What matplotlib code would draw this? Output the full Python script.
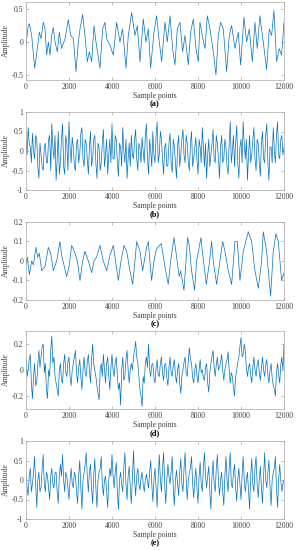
import numpy as np
import matplotlib.pyplot as plt

# --- data (sample index, amplitude) ---

# (a) smooth-ish signal: turning points
a_x = [0, 93, 155, 264, 403, 527, 620, 698, 806, 884, 961, 1039, 1116, 1194,
       1271, 1349, 1457, 1550, 1659, 1814, 1969, 2077, 2201, 2325, 2434, 2511,
       2635, 2744, 2852, 2945, 3054, 3162, 3255, 3441, 3565, 3674, 3751, 3906,
       4061, 4216, 4371, 4495, 4650, 4759, 4914, 5069, 5177, 5301, 5456, 5580,
       5689, 5797, 5952, 6076, 6200, 6309, 6464, 6572, 6696, 6820, 6929, 7037,
       7161, 7285, 7394, 7549, 7657, 7781, 7905, 8014, 8091, 8200, 8324, 8432,
       8556, 8711, 8835, 8944, 9052, 9176, 9331, 9455, 9564, 9719, 9874, 9982,
       10137, 10261, 10385, 10525, 10649, 10757, 10881, 11036, 11191, 11315,
       11424, 11532, 11656, 11780, 11889, 12000]
a_y = [-0.05, 0.22, 0.28, 0.1, -0.4, -0.1, 0.15, 0.05, 0.3, 0.2, -0.2, 0.0,
       -0.2, 0.1, 0.22, 0.0, -0.15, 0.15, -0.1, 0.05, 0.34, 0.1, 0.05, -0.45,
       0.0, 0.2, 0.42, 0.1, -0.3, -0.15, -0.3, 0.25, 0.0, -0.4, 0.2, 0.3, 0.05,
       -0.05, -0.2, 0.3, 0.0, 0.2, -0.4, 0.1, 0.45, 0.1, 0.25, -0.3, 0.35, 0.0,
       0.2, -0.4, 0.15, 0.4, 0.0, -0.3, 0.3, 0.0, 0.4, -0.1, -0.35, 0.2, 0.3,
       -0.15, 0.1, -0.35, 0.15, 0.35, -0.1, -0.3, 0.3, 0.1, -0.1, 0.4, 0.2,
       -0.15, -0.5, 0.1, 0.3, 0.2, -0.45, 0.1, 0.25, -0.1, 0.15, -0.35, 0.38,
       0.0, 0.2, -0.3, 0.3, -0.1, 0.4, 0.0, -0.42, 0.2, 0.1, 0.48, -0.3, -0.1,
       -0.2, 0.3]

# (b) dense broadband signal, every 50 samples
b_y = [0.3, -0.1, 0.6, 0.2, 0.1, -0.3, 0.45, 0.0, -0.2, 0.4, 0.3, -0.4, -0.7, 0.2, -0.1, -0.4, -0.5, 0.1, 0.2, -0.3,
       -0.3, 0.3, 0.4, -0.5, 0.7, 0.1, -0.2, 0.4, -0.75, -0.2, 0.5, -0.6, -0.3, 0.3, 0.7, -0.4, -0.6, 0.4, 0.2, -0.5,
       0.75, 0.1, -0.3, 0.35, 0.1, -0.4, -0.5, 0.2, 0.3, -0.3, -0.1, 0.45, 0.6, -0.2, -0.4, 0.3, 0.2, -0.2, -0.6, 0.1,
       0.5, -0.4, -0.2, 0.3, 0.4, -0.3, -0.7, 0.2, 0.1, -0.5, -0.3, 0.2, 0.55, -0.4, -0.1, 0.3, -0.6, -0.1, 0.3, -0.3,
       0.7, -0.2, -0.2, 0.4, 0.3, -0.3, -0.65, 0.2, 0.1, -0.4, 0.6, 0.0, -0.3, 0.3, -0.7, -0.2, 0.2, -0.4, 0.4, -0.1,
       -0.2, 0.3, 0.55, -0.2, -0.5, 0.2, 0.1, -0.3, 0.35, 0.0, -0.3, 0.4, 0.7, -0.2, -0.6, 0.3, 0.0, -0.4, 0.5, -0.1,
       -0.3, 0.4, 0.75, -0.3, -0.1, 0.5, 0.3, -0.2, -0.6, 0.1, 0.2, -0.4, -0.35, 0.2, 0.45, -0.3, -0.55, 0.3, 0.1, -0.3,
       -0.7, 0.1, 0.4, -0.4, -0.1, 0.3, 0.55, -0.1, -0.3, 0.4, 0.2, -0.3, -0.5, 0.2, 0.5, -0.4, -0.2, 0.1, 0.35, -0.2,
       -0.6, 0.3, 0.1, -0.3, 0.6, 0.1, -0.4, 0.2, -0.7, -0.1, 0.3, -0.4, -0.1, 0.2, 0.55, -0.2, -0.3, 0.4, 0.2, -0.2,
       -0.7, 0.1, 0.4, -0.3, -0.2, 0.3, 0.1, -0.4, -0.6, 0.2, 0.75, -0.3, 0.0, 0.4, -0.4, 0.2, 0.65, -0.3, -0.7, 0.1,
       0.3, -0.3, 0.75, 0.2, -0.2, 0.3, -0.75, -0.1, 0.4, -0.3, -0.1, 0.3, 0.6, -0.2, -0.5, 0.3, 0.2, -0.3, -0.65, 0.2,
       0.5, -0.2, -0.3, 0.4, 0.7, -0.3, -0.75, 0.1, 0.1, -0.3, 0.6, 0.0, -0.3, 0.4, 0.75, -0.1, -0.2, 0.3, 0.4, -0.1,
       0.1]

# (c) quasi-periodic signal with growing amplitude: turning points
c_x = [0, 62, 155, 264, 341, 465, 543, 620, 729, 884, 1039, 1147, 1271, 1426,
       1581, 1659, 1891, 1999, 2124, 2279, 2387, 2511, 2635, 2744, 2899, 3054,
       3162, 3286, 3441, 3596, 3751, 3906, 4061, 4139, 4294, 4418, 4557, 4681,
       4836, 4960, 5069, 5146, 5301, 5425, 5611, 5689, 5843, 5952, 6061, 6293,
       6448, 6615, 6727, 6883, 7130, 7192, 7347, 7518, 7595, 7700, 7843, 7936,
       8138, 8200, 8386, 8541, 8634, 8711, 8866, 9021, 9145, 9254, 9409, 9564,
       9719, 9828, 9952, 10107, 10339, 10494, 10649, 10804, 10959, 11036, 11191,
       11377, 11501, 11625, 11734, 11889, 12000]
c_y = [-0.02, 0.02, -0.07, 0.0, -0.02, 0.07, 0.02, 0.04, -0.05, -0.03, 0.07,
       0.04, -0.05, 0.0, 0.1, 0.03, -0.08, -0.03, 0.08, 0.04, 0.0, -0.1, 0.0,
       0.05, 0.0, -0.06, 0.0, 0.02, 0.08, 0.0, -0.05, 0.03, 0.08, 0.02, -0.1,
       0.0, 0.08, 0.05, -0.05, -0.12, 0.0, 0.1, 0.05, -0.05, 0.07, 0.1, -0.1,
       0.0, 0.06, 0.09, -0.02, -0.12, 0.0, 0.12, -0.08, -0.05, -0.15, 0.12,
       0.08, -0.05, -0.15, 0.0, 0.12, 0.05, -0.12, 0.0, 0.1, 0.0, -0.12, 0.0,
       0.1, 0.05, -0.05, -0.12, 0.1, 0.1, -0.1, 0.05, 0.15, 0.1, -0.05, -0.14,
       0.0, 0.15, 0.05, -0.18, 0.05, 0.14, 0.1, -0.1, -0.06]

# (d) dense signal with slow swings, every 50 samples
d_y = [0.1, -0.05, 0.0, 0.08, 0.12, -0.1, -0.22, -0.05, 0.05, -0.12, -0.1, 0.05, 0.15, 0.02, 0.1, 0.18, 0.2, -0.02, 0.05, -0.15,
       -0.22, 0.0, -0.05, 0.15, 0.26, 0.05, 0.1, -0.05, -0.1, -0.15, -0.2, 0.0, 0.05, -0.08, -0.1, 0.05, 0.12, -0.02, -0.05, 0.06,
       0.1, -0.05, -0.12, 0.0, 0.05, 0.1, 0.15, -0.02, -0.1, 0.02, 0.08, -0.05, -0.15, 0.0, 0.1, -0.02, -0.05, 0.06, 0.12, 0.0,
       -0.1, 0.08, 0.2, 0.05, 0.0, -0.05, -0.12, -0.18, -0.23, 0.0, 0.05, -0.05, 0.12, 0.0, -0.1, 0.05, 0.1, -0.05, -0.15, 0.02,
       0.12, 0.0, -0.05, 0.06, 0.1, -0.05, -0.15, -0.1, -0.27, 0.0, 0.1, -0.08, -0.05, 0.08, 0.15, 0.0, -0.1, 0.0, 0.05, 0.0,
       0.1, 0.15, 0.22, 0.1, 0.05, -0.05, -0.15, -0.2, -0.28, -0.05, -0.1, 0.05, 0.1, 0.02, 0.2, 0.0, -0.05, 0.04, 0.05, -0.06,
       -0.1, 0.02, 0.08, -0.04, -0.05, 0.05, 0.1, -0.02, -0.08, 0.04, 0.05, -0.06, -0.12, 0.02, 0.1, -0.02, -0.05, 0.04, 0.08, -0.04,
       -0.1, 0.0, 0.05, -0.1, -0.18, -0.05, 0.0, 0.06, 0.1, -0.02, -0.05, 0.08, 0.17, 0.08, 0.05, -0.06, -0.1, 0.0, 0.05, -0.04,
       -0.1, 0.0, 0.08, -0.02, 0.0, -0.06, -0.08, 0.02, 0.05, -0.1, -0.17, -0.02, 0.05, 0.1, 0.15, 0.02, -0.05, 0.04, 0.1, 0.0,
       0.02, 0.06, 0.12, 0.0, -0.08, 0.0, 0.05, 0.08, 0.14, 0.0, -0.1, -0.02, -0.05, -0.14, -0.2, -0.05, 0.0, 0.06, 0.1, 0.18,
       0.25, 0.1, 0.12, 0.2, 0.15, 0.02, -0.05, 0.02, 0.05, -0.04, -0.1, 0.02, 0.1, 0.0, -0.05, 0.04, 0.08, -0.02, -0.08, 0.02,
       0.1, 0.0, -0.05, 0.04, 0.08, -0.04, -0.1, 0.0, 0.05, -0.06, -0.12, -0.15, -0.2, -0.02, 0.05, -0.04, -0.1, 0.04, 0.1, 0.0,
       0.2]

# (e) spiky broadband signal, every 50 samples
e_y = [0.1, -0.2, -0.4, 0.1, 0.3, -0.3, -0.1, 0.2, 0.6, -0.1, -0.7, 0.0, 0.2, -0.3, -0.2, 0.3, 0.65, -0.1, -0.3, 0.2,
       0.1, -0.2, -0.5, 0.1, 0.3, -0.1, -0.2, 0.2, 0.2, -0.3, -0.6, 0.1, 0.4, 0.1, 0.65, 0.0, -0.3, 0.2, 0.1, -0.2,
       -0.5, 0.0, 0.3, -0.1, -0.2, 0.2, 0.1, -0.3, -0.6, 0.1, 0.5, -0.2, -0.75, 0.0, 0.2, 0.4, 0.7, 0.1, -0.3, 0.2,
       0.4, -0.2, -0.6, 0.1, 0.55, -0.2, -0.7, 0.0, 0.2, 0.3, 0.6, -0.1, -0.4, 0.0, 0.1, -0.3, -0.7, 0.0, 0.3, 0.1,
       0.65, 0.1, -0.2, 0.2, 0.45, -0.3, -0.75, 0.0, 0.2, -0.1, -0.3, 0.3, 0.7, -0.1, -0.5, 0.1, 0.35, -0.2, -0.6, 0.1,
       0.75, 0.0, -0.4, 0.1, 0.3, -0.1, -0.25, 0.05, 0.2, -0.1, -0.3, 0.0, 0.15, -0.05, -0.2, 0.2, 0.5, -0.1, -0.55, 0.0,
       0.3, -0.2, -0.7, 0.1, 0.65, 0.0, -0.3, 0.3, 0.7, -0.1, -0.6, 0.0, 0.4, 0.1, -0.1, 0.2, 0.6, -0.2, -0.65, 0.0,
       0.25, -0.1, -0.4, 0.2, 0.55, -0.1, -0.3, 0.3, 0.7, 0.0, -0.5, 0.0, 0.2, 0.3, 0.6, -0.1, -0.45, 0.0, 0.3, -0.2,
       -0.6, 0.1, 0.45, -0.1, -0.3, 0.3, 0.7, 0.1, -0.2, 0.1, 0.35, -0.3, -0.75, 0.1, 0.5, -0.1, -0.3, 0.3, 0.65, 0.0,
       -0.4, 0.0, 0.2, -0.3, -0.65, 0.1, 0.6, 0.0, -0.3, 0.3, 0.7, -0.1, -0.2, 0.2, 0.4, -0.2, -0.55, 0.0, 0.3, -0.1,
       -0.5, 0.1, 0.6, 0.0, -0.3, 0.0, 0.2, -0.3, -0.75, 0.1, 0.55, -0.1, -0.3, 0.3, 0.6, -0.1, -0.45, 0.0, 0.35, -0.2,
       -0.6, 0.1, 0.7, 0.0, -0.2, 0.2, 0.5, -0.2, -0.65, 0.0, 0.2, 0.3, 0.6, -0.2, -0.7, 0.0, 0.4, 0.0, -0.3, -0.1,
       0.0]

labels = ['(a)', '(b)', '(c)', '(d)', '(e)']
ylims = [(-0.58, 0.61), (-1, 1), (-0.2, 0.2), (-0.3, 0.3), (-1, 1)]
yticks = [[-0.5, 0, 0.5], [-1, -0.5, 0, 0.5, 1], [-0.2, -0.1, 0, 0.1, 0.2],
          [-0.2, 0, 0.2], [-1, -0.5, 0, 0.5, 1]]
xticks = [0, 2000, 4000, 6000, 8000, 10000, 12000]


def even_x(vals):
    return np.linspace(0, 12000, len(vals))


series = [(a_x, a_y), (even_x(b_y), b_y), (c_x, c_y),
          (even_x(d_y), d_y), (even_x(e_y), e_y)]

plt.rcParams['font.family'] = ['Liberation Serif', 'DejaVu Serif']
plt.rcParams['font.size'] = 5.5

fig = plt.figure(figsize=(2.96, 5.5), dpi=100)

# axes boxes in pixel terms: left 26, width 258, height 78
tops = [2, 112, 222, 331, 441]
blue = '#0072BD'
grey_txt = '#404040'

for i, (xs, ys) in enumerate(series):
    bottom = 1 - (tops[i] + 78) / 550
    ax = fig.add_axes([26 / 296, bottom, 258 / 296, 78 / 550])
    ax.plot(xs, ys, color=blue, linewidth=0.5)
    ax.set_xlim(0, 12000)
    ax.set_ylim(*ylims[i])
    ax.set_xticks(xticks)
    ax.set_yticks(yticks[i])
    ax.set_yticklabels([f'{t:g}' for t in yticks[i]])
    ax.tick_params(direction='in', length=2, width=0.4, colors='#909090',
                   labelcolor=grey_txt, pad=2, top=True, right=True)
    for sp in ax.spines.values():
        sp.set_color('#a8a8a8')
        sp.set_linewidth(0.5)
    ax.set_xlabel('Sample points', color=grey_txt, labelpad=1)
    ax.set_ylabel('Amplitude', color=grey_txt, labelpad=1)
    ax.text(0.5, -0.31, labels[i], transform=ax.transAxes, ha='center',
            va='center', fontweight='bold', fontsize=6)

fig.savefig('out.png', dpi=100)
